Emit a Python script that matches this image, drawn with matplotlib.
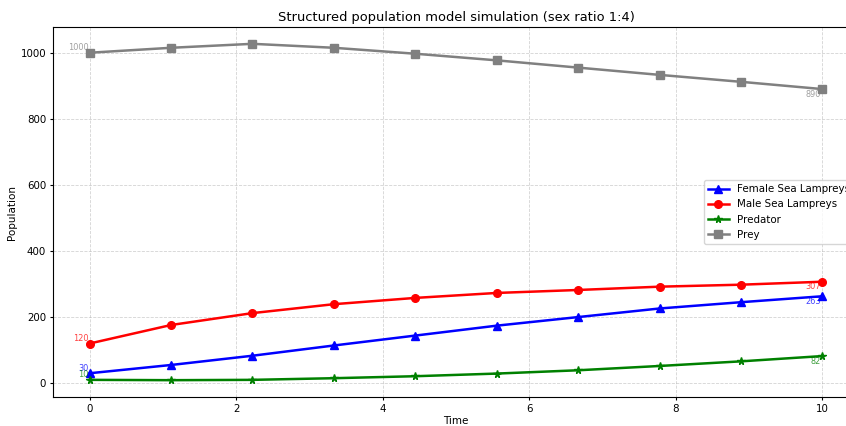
import numpy as np
import matplotlib
matplotlib.use("Agg")
import matplotlib.pyplot as plt

time = np.linspace(0, 10, 10)
female = [30, 55, 83, 114, 144, 174, 200, 226, 245, 263]
male = [120, 176, 212, 239, 258, 273, 282, 292, 298, 307]
predator = [10, 9, 10, 15, 21, 29, 39, 52, 66, 82]
prey = [1000, 1015, 1027, 1015, 997, 977, 955, 933, 912, 890]

series = [
    ("Female Sea Lampreys", female, "blue", "^"),
    ("Male Sea Lampreys", male, "red", "o"),
    ("Predator", predator, "green", "*"),
    ("Prey", prey, "gray", "s"),
]

fig = plt.figure(figsize=(8.46, 4.26), dpi=100)
ax = fig.add_axes([53/846, 29/426, 806/846, 370/426])

for name, vals, col, mk in series:
    ax.plot(time, vals, color=col, marker=mk, linewidth=1.8, markersize=5.5, label=name)
    ax.annotate(f"{vals[0]}", (time[0], vals[0]), xytext=(-1, 0.5), textcoords="offset points",
                ha="right", va="bottom", fontsize=5.9, color=col, alpha=0.75)
    ax.annotate(f"{vals[-1]}", (time[-1], vals[-1]), xytext=(-1, -0.5), textcoords="offset points",
                ha="right", va="top", fontsize=5.9, color=col, alpha=0.75)

ax.set_xlim(-0.5, 10.5)
ax.set_title("Structured population model simulation (sex ratio 1:4)", fontsize=9.4, pad=4.5)
ax.set_xlabel("Time", fontsize=7.5, labelpad=1.5)
ax.set_ylabel("Population", fontsize=7.5, labelpad=2.5)
ax.tick_params(labelsize=7.4, length=2.5, pad=2.5)
ax.grid(True, linestyle="--", alpha=0.55, linewidth=0.6)
for s in ax.spines.values():
    s.set_linewidth(0.8)
ax.legend(loc="center right", fontsize=7.4)

fig.savefig("out.png", dpi=100)
